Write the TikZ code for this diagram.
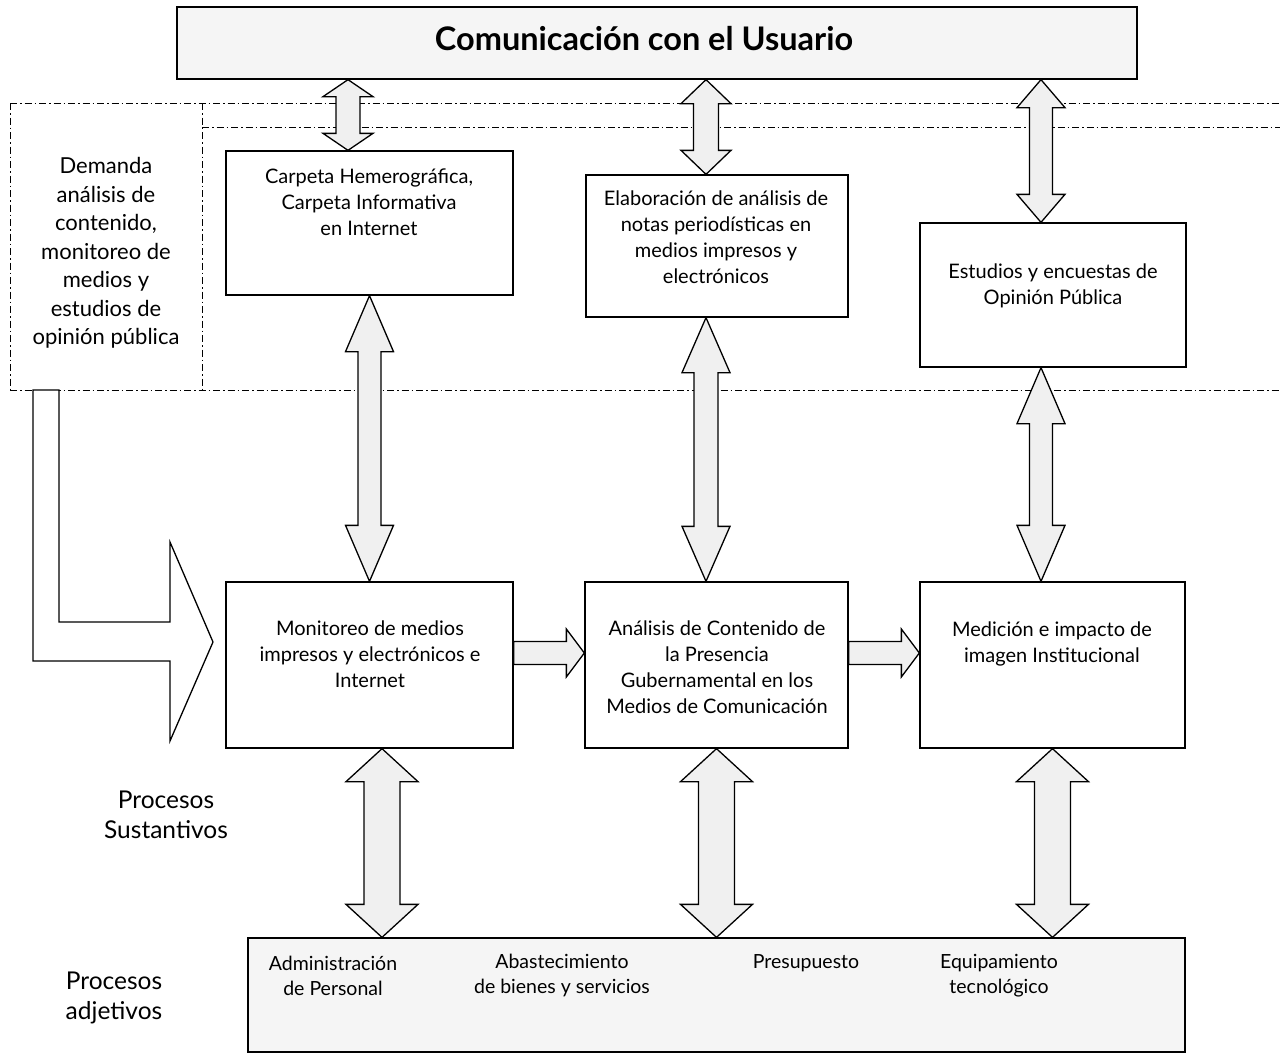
\documentclass[tikz,border=0pt]{standalone}
\usepackage{fontspec}
\setmainfont{Lato}
\usetikzlibrary{calc}
\newcommand{\vdarrow}[5]{%
  \draw[arr] let \p1=#1, \p2=#2 in
   (\x1,\y1) -- (\x1+#4pt,\y1-#5pt) -- (\x1+#3pt,\y1-#5pt) -- (\x1+#3pt,\y2+#5pt)
   -- (\x1+#4pt,\y2+#5pt) -- (\x1,\y2) -- (\x1-#4pt,\y2+#5pt) -- (\x1-#3pt,\y2+#5pt)
   -- (\x1-#3pt,\y1-#5pt) -- (\x1-#4pt,\y1-#5pt) -- cycle;}
\newcommand{\harrow}[5]{%
  \draw[arr] let \p1=#1, \p2=#2 in
   (\x1,\y2+#3pt) -- (\x2-#5pt,\y2+#3pt) -- (\x2-#5pt,\y2+#4pt) -- (\x2,\y2)
   -- (\x2-#5pt,\y2-#4pt) -- (\x2-#5pt,\y2-#3pt) -- (\x1,\y2-#3pt) -- cycle;}
\begin{document}
\begin{tikzpicture}[x=1pt,y=-1pt,
  proc/.style={draw, line width=1.3pt, fill=white, rectangle, inner sep=0pt},
  band/.style={draw, line width=1.3pt, fill=black!4, rectangle, inner sep=0pt},
  txt/.style={align=center, font=\fontsize{20}{26}\selectfont, inner sep=0pt},
  side/.style={align=center, font=\fontsize{24.5}{30}\selectfont, inner sep=0pt},
  small/.style={align=center, font=\fontsize{19.5}{25}\selectfont, inner sep=0pt},
  arr/.style={draw, line width=1.3pt, fill=black!6, line join=miter},
  bigarr/.style={draw, line width=1.3pt, fill=white, line join=miter},
  dd/.style={line width=0.8pt, dash pattern=on 7pt off 3pt on 1.5pt off 3pt},
]
\useasboundingbox (0,0) rectangle (1280,1057);

% dash-dot zone lines
\draw[dd] (10,103) -- (1280,103);
\draw[dd] (202,127) -- (1280,127);
\draw[dd] (10,390) -- (1280,390);
\draw[dd] (10,103) -- (10,390);
\draw[dd] (202,103) -- (202,390);

% boxes
\node[band, minimum width=960pt, minimum height=72pt] (top) at (657,43) {};
\node[font=\fontsize{32.5}{36}\selectfont\bfseries] (topT) at (644,39) {Comunicación con el Usuario};

\node[proc, minimum width=287pt, minimum height=144pt] (carpeta) at (369.5,223) {};
\node[txt] (carpetaT) at (369,202) {Carpeta Hemerográfica,\\Carpeta Informativa\\en Internet};

\node[proc, minimum width=262pt, minimum height=142pt] (elab) at (717,246) {};
\node[txt] (elabT) at (716,237) {Elaboración de análisis de\\notas periodísticas en\\medios impresos y\\electrónicos};

\node[proc, minimum width=266pt, minimum height=144pt] (estud) at (1053,295) {};
\node[txt] (estudT) at (1053,285.5) {Estudios y encuestas de\\Opinión Pública};

\node[proc, minimum width=287pt, minimum height=166pt] (monit) at (369.5,665) {};
\node[txt] (monitT) at (370,654) {Monitoreo de medios\\impresos y electrónicos e\\Internet};

\node[proc, minimum width=263pt, minimum height=166pt] (anal) at (716.5,665) {};
\node[txt] (analT) at (717,667) {Análisis de Contenido de\\la Presencia\\Gubernamental en los\\Medios de Comunicación};

\node[proc, minimum width=265pt, minimum height=166pt] (medic) at (1052.5,665) {};
\node[txt] (medicT) at (1052,643.5) {Medición e impacto de\\imagen Institucional};

\node[band, minimum width=937pt, minimum height=114pt] (bottom) at (716.5,995) {};
\node[small] (b1) at (333,975.5) {Administración\\de Personal};
\node[small] (b2) at (562,975.5) {Abastecimiento\\de bienes y servicios};
\node[small] (b3) at (806,963) {Presupuesto};
\node[small] (b4) at (999,975.5) {Equipamiento\\tecnológico};

% side labels
\node[side, font=\fontsize{22}{28.5}\selectfont] (demanda) at (106,253)
  {Demanda\\análisis de\\contenido,\\monitoreo de\\medios y\\estudios de\\opinión pública};
\node[side] (sust) at (166,815) {Procesos\\Sustantivos};
\node[side] (adj) at (114,997.5) {Procesos\\adjetivos};

% big L-shaped arrow
\draw[bigarr] (33,390) -- (33,661) -- (170,661) -- (170,741) -- (213,642)
  -- (170,542) -- (170,622) -- (59,622) -- (59,390) -- cycle;

% x positions of arrows
\coordinate (a1) at (348,0);
\coordinate (a2) at (706,0);
\coordinate (a3) at (1041,0);
\coordinate (c1) at (382,0);
\coordinate (h) at (0,653);

% top arrows
\vdarrow{(top.south -| a1)}{(carpeta.north -| a1)}{12}{25}{17}
\vdarrow{(top.south -| a2)}{(elab.north -| a2)}{12.5}{25}{24}
\vdarrow{(top.south -| a3)}{(estud.north -| a3)}{11.5}{24}{28}

% middle arrows
\vdarrow{(carpeta.south)}{(monit.north -| carpeta.south)}{11.5}{24}{56}
\vdarrow{(elab.south -| a2)}{(anal.north -| a2)}{12}{24}{55}
\vdarrow{(estud.south -| a3)}{(medic.north -| a3)}{11.5}{24}{56}

% bottom arrows
\vdarrow{(monit.south -| c1)}{(bottom.north -| c1)}{18}{36}{33}
\vdarrow{(anal.south)}{(bottom.north -| anal.south)}{18}{36}{33}
\vdarrow{(medic.south)}{(bottom.north -| medic.south)}{18}{36}{33}

% horizontal arrows
\harrow{(monit.east |- h)}{(anal.west |- h)}{11.5}{24}{18}
\harrow{(anal.east |- h)}{(medic.west |- h)}{11.5}{24}{18}
\end{tikzpicture}
\end{document}
